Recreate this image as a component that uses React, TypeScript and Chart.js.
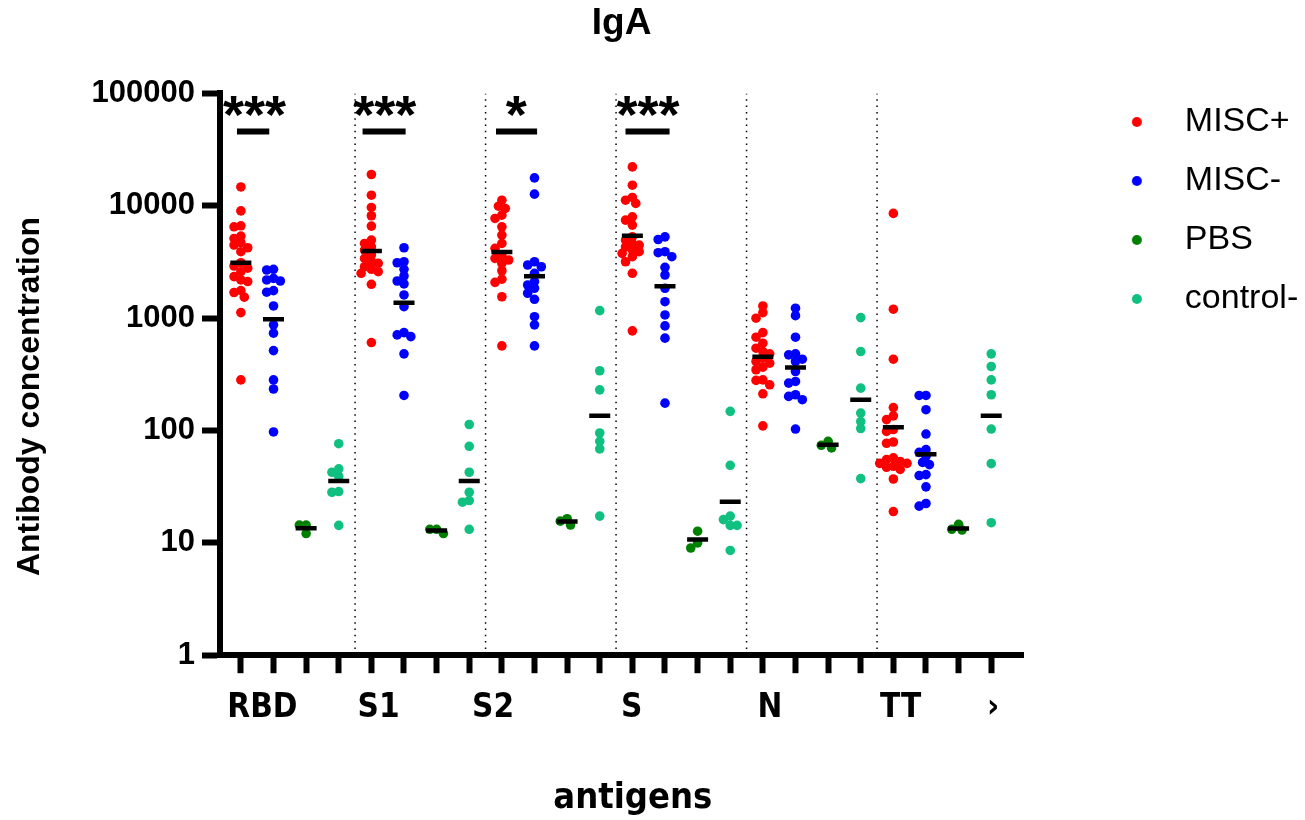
import React, { useEffect, useRef } from 'react';
import { Chart, registerables } from 'chart.js';

Chart.register(...registerables);

// ---------------- data ----------------
const antigens = ['RBD', 'S1', 'S2', 'S', 'N', 'TT'];
const groupNames = ['MISC+', 'MISC-', 'PBS', 'control-'];
const groupColors = ['#ff0000', '#0000ff', '#008000', '#10c080'];

// values per antigen (RBD, S1, S2, S, N, TT)
const miscPlus: number[][] = [
  [14700, 9000, 6630, 6500, 5370, 5120, 4690, 4470, 4230, 3900, 3110, 2910, 2780, 2590, 2340, 2185, 2115, 1755, 1690, 1535, 1120, 282],
  [18970, 12410, 9660, 8150, 6590, 4950, 4620, 4310, 4035, 3640, 3400, 3175, 3070, 2865, 2720, 2590, 2505, 2000, 606],
  [11200, 9910, 9460, 8250, 7710, 6500, 5480, 4620, 4180, 3640, 3400, 3290, 3070, 2640, 2220, 2080, 1550, 566],
  [22170, 15240, 11850, 11200, 10480, 7980, 7450, 6730, 5290, 4950, 4620, 4470, 4310, 4035, 3900, 3770, 3520, 3175, 2505, 770],
  [1283, 1120, 998, 743, 676, 598, 540, 504, 481, 440, 411, 397, 366, 347, 282, 279, 255, 212, 110],
  [8550, 1200, 431, 160, 135, 125, 102, 98, 79, 77, 57, 55, 53, 51, 51, 48, 47, 45, 37, 19],
];
const miscMinus: number[][] = [
  [2720, 2680, 2260, 2185, 2140, 1755, 1700, 1283, 871, 735, 514, 282, 234, 97],
  [4230, 3175, 3110, 2720, 2370, 2140, 2013, 1607, 1265, 743, 709, 685, 481, 205],
  [17700, 12680, 3175, 2970, 2865, 2505, 2115, 1972, 1845, 1665, 1470, 1030, 871, 566],
  [5290, 5010, 3900, 3820, 3520, 2830, 2420, 1845, 1400, 1067, 853, 663, 175],
  [1225, 1052, 676, 481, 471, 431, 411, 335, 273, 264, 208, 201, 188, 103],
  [205, 205, 153, 93, 67.5, 63.9, 58.9, 52, 49.7, 40.5, 39.7, 31.5, 22.4, 21.2],
];
const pbs: number[][] = [
  [12.1, 14.4, 14.4],
  [12.1, 13.2, 13.2],
  [14.4, 16.4, 15.6],
  [12.7, 9.0, 10.0],
  [70, 80, 73.8],
  [13.2, 14.6, 13.0],
];
const controlNeg: number[][] = [
  [76.3, 45.5, 42.5, 39, 28.2, 28.6, 14.3],
  [113, 72.3, 42.5, 28.2, 23.8, 23, 13.2],
  [1166, 340, 230, 95, 80, 68.5, 17.3],
  [148, 49, 17.3, 16.1, 14.3, 14.3, 8.56],
  [1011, 504, 238, 143, 120, 104, 37.3],
  [481, 371, 282, 208, 103, 50.7, 15.1],
];

const medPlus = [3110, 3950, 3870, 5400, 452, 107];
const medMinus = [978, 1373, 2355, 1920, 364, 61.3];
const medPbs = [13.5, 12.9, 15.5, 10.7, 74.8, 13.4];
const medCtrl = [35.6, 35.6, 135, 23.2, 188, 135];

const sigFrom = [-0.12, 3.73, 7.82, 11.79];
const sigTo = [0.87, 5.05, 9.08, 13.14];
const sigLevel = 45700;
const starX = [0.42, 4.41, 8.44, 12.48];
const starText = ['***', '***', '*', '***'];
const starLevel = 77000;

const separatorX = [3.5, 7.5, 11.5, 15.5, 19.5];

const yTickValues = [1, 10, 100, 1000, 10000, 100000];
const categoryLabels = ['RBD', 'S1', 'S2', 'S', 'N', 'TT', '\u203A'];
const categoryLabelPos = [0.66, 4.22, 7.73, 11.98, 16.22, 20.22, 23.06];

// ---------------- helpers ----------------
const FONT = '"Liberation Sans", Arial, Helvetica, sans-serif';
const NARROW = '"Liberation Sans Narrow", "Arial Narrow", "DejaVu Sans Condensed", sans-serif';
const PX_X = 32.5;
const PX_DEC = 112.6;
const DOT = 6.6;
const STEP = 3.4;

function swarm(values: number[]): number[] {
  const idx = values.map((_, i) => i).sort((a, b) => values[b] - values[a]);
  const placed: { x: number; y: number }[] = [];
  const out = new Array(values.length).fill(0);
  for (const i of idx) {
    const y = Math.log10(values[i]) * PX_DEC;
    for (let k = 0; k < 60; k++) {
      const off = (k % 2 === 1 ? -1 : 1) * Math.ceil(k / 2) * STEP;
      if (placed.every((p) => (p.x - off) ** 2 + (p.y - y) ** 2 >= DOT * DOT)) {
        placed.push({ x: off, y });
        out[i] = off / PX_X;
        break;
      }
    }
  }
  return out;
}

const starsPlugin = {
  id: 'sigStars',
  afterDatasetsDraw(chart: any) {
    const { ctx, scales } = chart;
    ctx.save();
    ctx.fillStyle = '#000';
    ctx.font = `bold 54px ${FONT}`;
    ctx.textAlign = 'center';
    ctx.textBaseline = 'alphabetic';
    starText.forEach((t, i) => {
      const x = scales.x.getPixelForValue(starX[i]);
      const y = scales.y.getPixelForValue(starLevel);
      const m = ctx.measureText(t);
      const asc = m.actualBoundingBoxAscent || 0;
      const desc = m.actualBoundingBoxDescent || 0;
      ctx.fillText(t, x, y + (asc - desc) / 2);
    });
    ctx.restore();
  },
};

export default function App() {
  const ref = useRef<HTMLCanvasElement | null>(null);

  useEffect(() => {
    if (!ref.current) return;
    Chart.defaults.color = '#000';

    const groupData = [miscPlus, miscMinus, pbs, controlNeg];
    const medians = [medPlus, medMinus, medPbs, medCtrl];

    const datasets: any[] = [];
    groupData.forEach((g, gi) => {
      const pts: { x: number; y: number }[] = [];
      g.forEach((vals, ai) => {
        const offs = swarm(vals);
        vals.forEach((v, k) => pts.push({ x: ai * 4 + gi + offs[k], y: v }));
      });
      datasets.push({
        label: groupNames[gi],
        data: pts,
        backgroundColor: groupColors[gi],
        borderColor: groupColors[gi],
        pointRadius: 4.8,
        pointHoverRadius: 4.8,
        pointBorderWidth: 0,
        order: 2,
      });
    });

    const medPts: { x: number; y: number }[] = [];
    medians.forEach((m, gi) => m.forEach((v, ai) => medPts.push({ x: ai * 4 + gi, y: v })));
    datasets.push({
      label: 'median',
      data: medPts,
      pointStyle: 'line',
      pointRadius: 10.5,
      pointHoverRadius: 10.5,
      pointBorderWidth: 4.5,
      borderColor: '#000',
      backgroundColor: '#000',
      order: 1,
    });

    sigFrom.forEach((a, i) => {
      datasets.push({
        type: 'line',
        label: 'sig',
        data: [
          { x: a, y: sigLevel },
          { x: sigTo[i], y: sigLevel },
        ],
        borderColor: '#000',
        borderWidth: 6,
        pointRadius: 0,
        fill: false,
        borderCapStyle: 'butt',
        order: 1,
      });
    });

    separatorX.forEach((x) => {
      datasets.push({
        type: 'line',
        label: 'sep',
        data: [
          { x, y: 1 },
          { x, y: 100000 },
        ],
        borderColor: '#000',
        borderWidth: 1.5,
        borderDash: [1.5, 4.8],
        pointRadius: 0,
        fill: false,
        order: 3,
      });
    });

    const dotImages = groupColors.map((c) => {
      const cv = document.createElement('canvas');
      cv.width = 12;
      cv.height = 12;
      const cx = cv.getContext('2d')!;
      cx.fillStyle = c;
      cx.beginPath();
      cx.arc(6, 6, 5, 0, Math.PI * 2);
      cx.fill();
      return cv;
    });

    const legendFontSize = 34;
    const legendPad = 25;
    const legendBox = 62;
    const mc = document.createElement('canvas').getContext('2d')!;
    mc.font = `${legendFontSize}px ${FONT}`;
    const tw = Math.max(...groupNames.map((n) => mc.measureText(n).width));
    const legendWidth = legendPad + legendBox + legendFontSize / 2 + tw + 10;
    const plotRight = 1020;
    const gapW = Math.max(0, 1305 - legendWidth - plotRight);

    const xTickValues = antigens.flatMap((_, a) => groupNames.map((__, g) => a * 4 + g));
    const xMin = -0.64;
    const xMax = 23.98;

    const chart = new Chart(ref.current, {
      type: 'scatter',
      data: { datasets },
      plugins: [starsPlugin],
      options: {
        animation: false,
        responsive: true,
        maintainAspectRatio: false,
        events: [],
        layout: { padding: { left: 0, top: 0, bottom: 0, right: 8 } },
        plugins: {
          tooltip: { enabled: false },
          title: {
            display: true,
            text: 'IgA',
            fullSize: false,
            color: '#000',
            font: { family: FONT, size: 37, weight: 'bold' },
            padding: { top: 2, bottom: 47 },
          },
          legend: {
            display: true,
            position: 'right',
            align: 'start',
            title: { display: true, text: ' ', font: { size: 10 }, padding: { top: 68, bottom: 0 } },
            labels: {
              usePointStyle: true,
              pointStyleWidth: legendBox,
              padding: legendPad,
              color: '#000',
              font: { family: FONT, size: legendFontSize },
              generateLabels: () =>
                groupNames.map((name, i) => ({
                  text: name,
                  fillStyle: groupColors[i],
                  strokeStyle: groupColors[i],
                  lineWidth: 0,
                  pointStyle: dotImages[i],
                  datasetIndex: i,
                  hidden: false,
                  fontColor: '#000',
                })),
            },
          },
        },
        scales: {
          x: {
            type: 'linear',
            axis: 'x',
            position: 'bottom',
            min: xMin,
            max: xMax,
            afterBuildTicks: (s: any) => {
              s.ticks = xTickValues.map((v) => ({ value: v }));
            },
            grid: { display: true, drawOnChartArea: false, drawTicks: true, tickLength: 18, tickWidth: 6, color: '#000' },
            border: { display: true, width: 6, color: '#000' },
            ticks: { display: false },
          },
          xLabels: {
            type: 'linear',
            axis: 'x',
            position: 'bottom',
            min: xMin,
            max: xMax,
            afterBuildTicks: (s: any) => {
              s.ticks = categoryLabelPos.map((v) => ({ value: v }));
            },
            grid: { display: false, drawTicks: false, tickLength: 0 },
            border: { display: false },
            ticks: {
              autoSkip: false,
              maxRotation: 0,
              padding: 15,
              color: '#000',
              font: { family: NARROW, size: 33, weight: 'bold' },
              callback: (_v: any, i: number) => categoryLabels[i],
            },
            title: {
              display: true,
              text: '  antigens',
              color: '#000',
              font: { family: NARROW, size: 36, weight: 'bold' },
              padding: { top: 34, bottom: 0 },
            },
          },
          y: {
            type: 'logarithmic',
            axis: 'y',
            position: 'left',
            min: 1,
            max: 100000,
            afterBuildTicks: (s: any) => {
              s.ticks = yTickValues.map((v) => ({ value: v }));
            },
            afterFit: (s: any) => {
              s.width = 220;
            },
            grid: { display: true, drawOnChartArea: false, drawTicks: true, tickLength: 18, tickWidth: 6, color: '#000' },
            border: { display: true, width: 6, color: '#000' },
            ticks: {
              autoSkip: false,
              padding: 7,
              color: '#000',
              font: { family: FONT, size: 31, weight: 'bold' },
              callback: (v: any) => String(v),
            },
            title: {
              display: true,
              text: 'Antibody concentration     ',
              color: '#000',
              font: { family: FONT, size: 32, weight: 'bold' },
              padding: { top: 11, bottom: 0 },
            },
          },
          y2: {
            type: 'linear',
            axis: 'y',
            position: 'right',
            display: true,
            grid: { display: false, drawTicks: false, tickLength: 0 },
            border: { display: false },
            ticks: { display: false },
            afterFit: (s: any) => {
              s.width = gapW;
            },
          },
        },
      } as any,
    });

    return () => chart.destroy();
  }, []);

  return (
    <div style={{ position: 'fixed', left: 0, top: 0, width: 1305, height: 820, background: '#fff' }}>
      <canvas ref={ref} />
    </div>
  );
}
